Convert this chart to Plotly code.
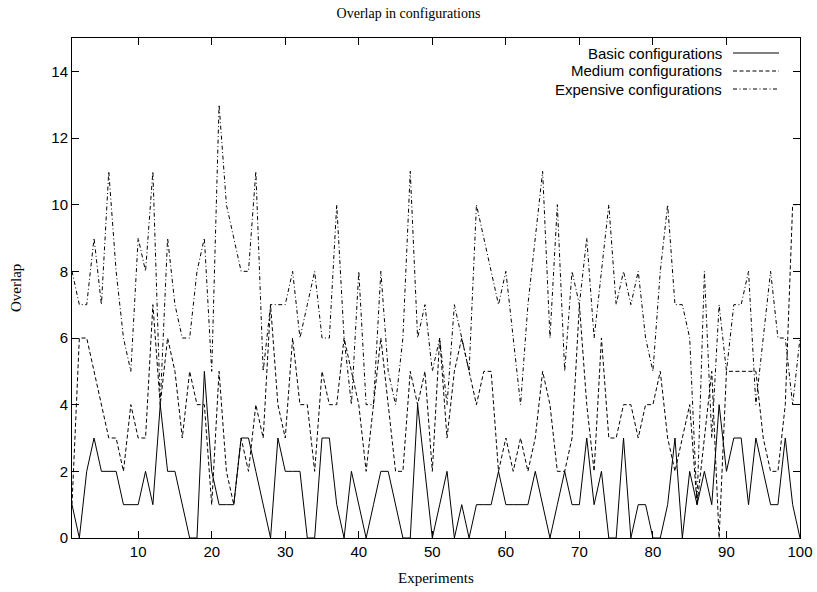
import plotly.graph_objects as go

experiments = list(range(1, 101))

basic = [1, 0, 2, 3, 2, 2, 2, 1, 1, 1,
         2, 1, 4, 2, 2, 1, 0, 0, 5, 2,
         1, 1, 1, 3, 3, 2, 1, 0, 3, 2,
         2, 2, 0, 0, 3, 3, 1, 0, 2, 1,
         0, 1, 2, 2, 1, 0, 0, 4, 2, 0,
         1, 2, 0, 1, 0, 1, 1, 1, 2, 1,
         1, 1, 1, 2, 1, 0, 1, 2, 1, 1,
         3, 1, 2, 0, 0, 3, 0, 1, 1, 0,
         0, 1, 3, 0, 2, 1, 2, 1, 4, 2,
         3, 3, 1, 3, 2, 1, 1, 3, 1, 0]

medium = [1, 6, 6, 5, 4, 3, 3, 2, 4, 3,
          3, 7, 4, 6, 5, 3, 5, 4, 4, 1,
          5, 2, 1, 3, 2, 4, 3, 7, 4, 3,
          6, 4, 4, 2, 5, 4, 4, 6, 5, 4,
          2, 4, 6, 4, 2, 2, 5, 4, 5, 2,
          6, 3, 5, 6, 5, 4, 5, 5, 2, 3,
          2, 3, 2, 3, 5, 4, 2, 2, 3, 7,
          4, 2, 6, 3, 3, 4, 4, 3, 4, 4,
          5, 3, 2, 3, 4, 1, 3, 5, 0, 5,
          5, 5, 5, 5, 3, 2, 2, 4, 10, 10]

expensive = [8, 7, 7, 9, 7, 11, 8, 6, 5, 9,
             8, 11, 4, 9, 7, 6, 6, 8, 9, 5,
             13, 10, 9, 8, 8, 11, 5, 7, 7, 7,
             8, 6, 7, 8, 6, 6, 10, 6, 4, 8,
             4, 4, 8, 5, 4, 6, 11, 6, 7, 5,
             6, 4, 7, 6, 5, 10, 9, 8, 7, 8,
             6, 4, 7, 9, 11, 6, 10, 5, 8, 7,
             9, 6, 8, 10, 7, 8, 7, 8, 6, 5,
             8, 10, 7, 7, 6, 1, 8, 3, 7, 5,
             7, 7, 8, 4, 6, 8, 6, 6, 4, 6]

series_names = ["Basic configurations", "Medium configurations", "Expensive configurations"]
series_values = [basic, medium, expensive]
dashes = ["solid", "4px,2.5px", "4px,2.5px,1px,2.5px"]

x_ticks = list(range(10, 101, 10))
y_ticks = list(range(0, 15, 2))

fig = go.Figure()
for name, vals, dash in zip(series_names, series_values, dashes):
    fig.add_trace(go.Scatter(x=experiments, y=vals, mode="lines", name=name,
                             line=dict(color="black", width=1, dash=dash),
                             showlegend=False))

W, H = 817, 592
L, R, T, B = 72, 17, 38, 54
pw, ph = W - L - R, H - T - B
def px_x(px):
    return (px - L) / pw
def px_y(py):
    return (H - B - py) / ph

shapes = []
annotations = []
for k, (name, dash) in enumerate(zip(series_names, dashes)):
    yy = 53 + 18 * k
    annotations.append(dict(x=px_x(724), y=px_y(yy), xref="paper", yref="paper",
                            text=name, showarrow=False, xanchor="right", yanchor="middle",
                            font=dict(family="Liberation Sans, Arial, sans-serif", size=15, color="black")))
    shapes.append(dict(type="line", xref="paper", yref="paper",
                       x0=px_x(733), x1=px_x(779), y0=px_y(yy), y1=px_y(yy),
                       line=dict(color="black", width=1, dash=dash)))

annotations.append(dict(x=0.5, y=px_y(578), xref="paper", yref="paper", text="Experiments",
                        showarrow=False, xanchor="center", yanchor="middle",
                        font=dict(family="Liberation Serif, Times New Roman, serif", size=15, color="black")))
annotations.append(dict(x=px_x(16), y=0.5, xref="paper", yref="paper", text="Overlap",
                        showarrow=False, xanchor="center", yanchor="middle", textangle=-90,
                        font=dict(family="Liberation Serif, Times New Roman, serif", size=15, color="black")))

axis_common = dict(showline=True, linecolor="black", linewidth=1, mirror="ticks",
                   ticks="inside", ticklen=7, tickcolor="black", tickwidth=1,
                   showgrid=False, zeroline=False, automargin=False,
                   tickfont=dict(family="Liberation Sans, Arial, sans-serif", size=15, color="black"))

fig.update_layout(
    width=W, height=H,
    margin=dict(l=L, r=R, t=T, b=B, autoexpand=False),
    paper_bgcolor="white", plot_bgcolor="white",
    hovermode=False,
    title=dict(text="Overlap in configurations", x=0.5, xref="container", xanchor="center",
               y=1 - 13 / H, yref="container", yanchor="middle",
               font=dict(family="Liberation Serif, Times New Roman, serif", size=14, color="black")),
    xaxis=dict(range=[1, 100], tickvals=x_ticks, ticktext=[str(t) for t in x_ticks], **axis_common),
    yaxis=dict(range=[0, 15], tickvals=y_ticks, ticktext=[str(t) for t in y_ticks], **axis_common),
    shapes=shapes, annotations=annotations,
)

fig.write_html("out.html", config={"displayModeBar": False},
               post_script="document.body.style.margin='0';document.body.style.overflow='hidden';")
